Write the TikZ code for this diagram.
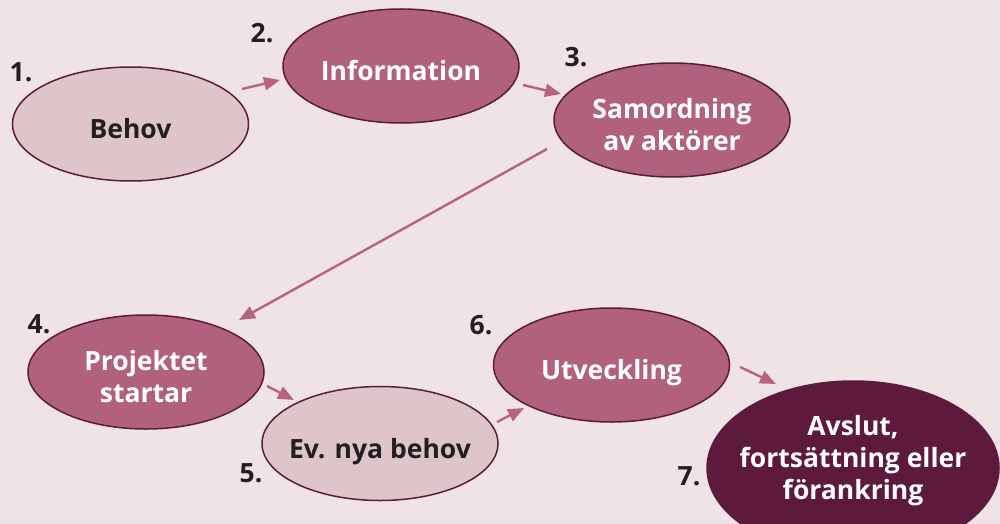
\documentclass[tikz,border=0pt]{standalone}
\usepackage{fontspec}
\setmainfont{Open Sans}
\usetikzlibrary{shapes.geometric,arrows.meta}
\definecolor{bgc}{RGB}{239,227,230}
\definecolor{lightc}{RGB}{222,197,202}
\definecolor{midc}{RGB}{177,97,126}
\definecolor{darkc}{RGB}{94,26,60}
\definecolor{arrc}{RGB}{183,98,130}
\definecolor{txtc}{RGB}{35,31,32}
\newcommand\topst{\rule{0pt}{36pt}}
\newcommand\botst{\rule[-7pt]{0pt}{7pt}}
\tikzset{
  stage/.style={ellipse, draw=darkc, line width=1.5pt, inner ysep=0pt, inner xsep=-30pt,
    minimum width=236pt, minimum height=114pt,
    font=\fontsize{26.5}{32}\selectfont\bfseries, align=center},
  lightstage/.style={stage, fill=lightc, text=txtc},
  midstage/.style={stage, fill=midc, text=white},
  darkstage/.style={stage, fill=darkc, text=white},
  num/.style={font=\fontsize{26.5}{30}\selectfont\bfseries, text=txtc, inner sep=0pt},
  arr/.style={draw=arrc, line width=2.4pt, -{Triangle[length=16pt,width=13pt]}},
}
\begin{document}
\begin{tikzpicture}[x=1pt,y=-1pt]
\clip (0,0) rectangle (1000,524);
\fill[bgc] (0,0) rectangle (1000,524);
\useasboundingbox (0,0) rectangle (1000,524);

\node[lightstage] (behov) at (130.5,124) {\topst Behov\botst};
\node[midstage] (info) at (401,66) {\topst Information\botst};
\node[midstage] (samord) at (672,120) {\topst Samordning\\av aktörer\botst};
\node[midstage] (proj) at (146,372) {\topst Projektet\\startar\botst};
\node[lightstage] (evnya) at (380,443.5) {\topst Ev. nya behov\botst};
\node[midstage] (utv) at (611.5,365) {\topst Utveckling\botst};
\node[darkstage, minimum width=292pt, minimum height=174pt, inner xsep=-40pt] (avslut) at (853,468)
  {Avslut,\\fortsättning eller\\förankring\rule[-21pt]{0pt}{21pt}};

\node[num] (n1) at (21,72) {1.};
\node[num] (n2) at (262,33) {2.};
\node[num] (n3) at (576,57) {3.};
\node[num] (n4) at (39,324) {4.};
\node[num] (n5) at (251,473) {5.};
\node[num] (n6) at (481,325) {6.};
\node[num] (n7) at (689,476) {7.};

\coordinate (a1s) at (242,89);  \coordinate (a1e) at (280,80);
\coordinate (a2s) at (523,85);  \coordinate (a2e) at (561,94);
\coordinate (a3s) at (547,149); \coordinate (a3e) at (239,320);
\coordinate (a4s) at (267,386); \coordinate (a4e) at (294,400);
\coordinate (a5s) at (497,422); \coordinate (a5e) at (524,408);
\coordinate (a6s) at (740,367); \coordinate (a6e) at (776,384);

\draw[arr] (a1s) -- (a1e);
\draw[arr] (a2s) -- (a2e);
\draw[arr] (a3s) -- (a3e);
\draw[arr] (a4s) -- (a4e);
\draw[arr] (a5s) -- (a5e);
\draw[arr] (a6s) -- (a6e);
\end{tikzpicture}
\end{document}
